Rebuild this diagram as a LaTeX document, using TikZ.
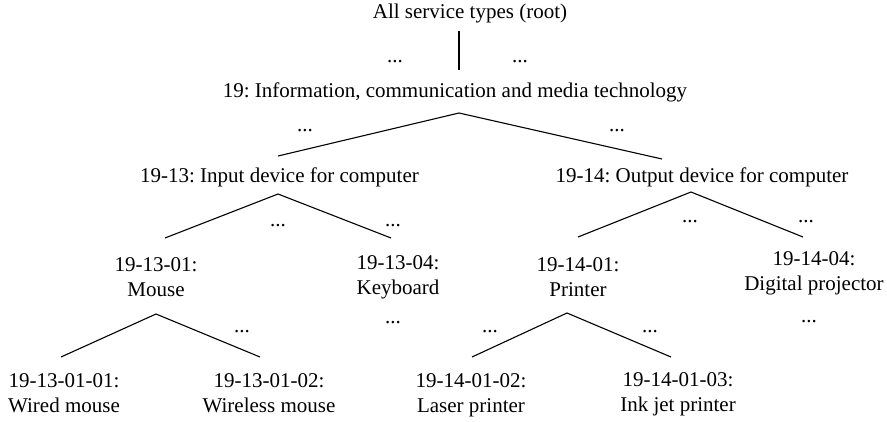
\documentclass[tikz,border=0pt]{standalone}
\usepackage{fontspec}
\setmainfont{Liberation Serif}
\frenchspacing
\newcommand{\twolines}[2]{\begin{tabular}[t]{@{}c@{}}#1\\#2\end{tabular}}
\begin{document}
\begin{tikzpicture}[x=1pt,y=-1pt,
  entry/.style={inner sep=0pt, anchor=base, font=\fontsize{21}{25}\selectfont},
  elide/.style={inner sep=0pt, anchor=base, font=\fontsize{21}{25}\selectfont},
  branch/.style={line width=1.1pt}]
\useasboundingbox (0,0) rectangle (887,421);

% category labels
\node[entry] (root) at (470,18) {All service types (root)};
\node[entry] (c19) at (455,97) {19: Information, communication and media technology};
\node[entry] (c1913) at (279.5,182) {19-13: Input device for computer};
\node[entry] (c1914) at (702,182) {19-14: Output device for computer};
\node[entry] (c191301) at (156,271) {\twolines{19-13-01:}{Mouse}};
\node[entry] (c191304) at (398,269) {\twolines{19-13-04:}{Keyboard}};
\node[entry] (c191401) at (578,271) {\twolines{19-14-01:}{Printer}};
\node[entry] (c191404) at (814,265) {\twolines{19-14-04:}{Digital projector}};
\node[entry] (c19130101) at (64,387) {\twolines{19-13-01-01:}{Wired mouse}};
\node[entry] (c19130102) at (269,387) {\twolines{19-13-01-02:}{Wireless mouse}};
\node[entry] (c19140102) at (471,387) {\twolines{19-14-01-02:}{Laser printer}};
\node[entry] (c19140103) at (678,386) {\twolines{19-14-01-03:}{Ink jet printer}};

% omitted siblings
\node[elide] (d0a) at (395,62) {...};
\node[elide] (d0b) at (520,62) {...};
\node[elide] (d1a) at (305,131) {...};
\node[elide] (d1b) at (617,131) {...};
\node[elide] (d2a) at (278,226) {...};
\node[elide] (d2b) at (393,226) {...};
\node[elide] (d2c) at (690,222) {...};
\node[elide] (d2d) at (806,222) {...};
\node[elide] (d3a) at (393,323) {...};
\node[elide] (d3b) at (809,322) {...};
\node[elide] (d4a) at (242,332) {...};
\node[elide] (d4b) at (490,332) {...};
\node[elide] (d4c) at (650,332) {...};

% branch points and branch ends
\coordinate (rootfork) at (459,31);
\coordinate (to19) at (459,70);
\coordinate (fork19) at (459,113);
\coordinate (to1913) at (278,156);
\coordinate (to1914) at (662,159);
\coordinate (fork1913) at (278,194);
\coordinate (to191301) at (165,238);
\coordinate (to191304) at (391,238);
\coordinate (fork1914) at (691,192);
\coordinate (to191401) at (578,237);
\coordinate (to191404) at (803,237);
\coordinate (fork191301) at (156,314);
\coordinate (to19130101) at (61,357);
\coordinate (to19130102) at (260,357);
\coordinate (fork191401) at (567,313);
\coordinate (to19140102) at (472,357);
\coordinate (to19140103) at (671,357);

% branches
\draw[branch] (rootfork) -- (to19);
\draw[branch] (to1913) -- (fork19) -- (to1914);
\draw[branch] (to191301) -- (fork1913) -- (to191304);
\draw[branch] (to191401) -- (fork1914) -- (to191404);
\draw[branch] (to19130101) -- (fork191301) -- (to19130102);
\draw[branch] (to19140102) -- (fork191401) -- (to19140103);
\end{tikzpicture}
\end{document}
